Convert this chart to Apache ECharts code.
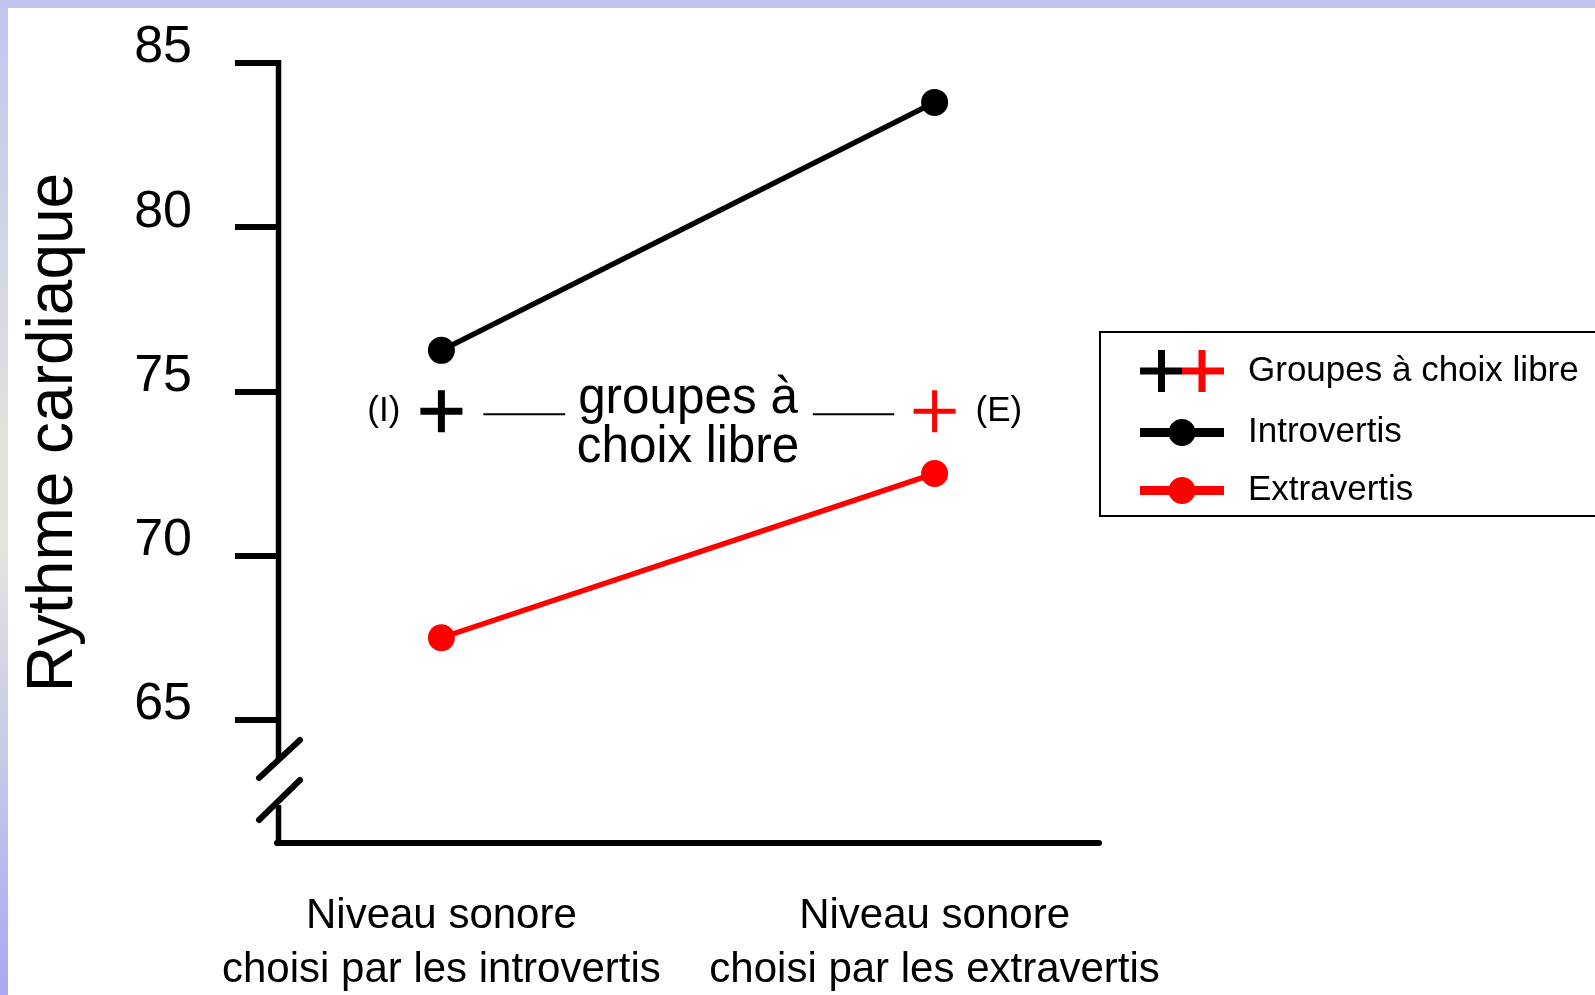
<!DOCTYPE html>
<html><head><meta charset="utf-8">
<script src="https://cdn.jsdelivr.net/npm/echarts@6/dist/echarts.min.js"></script>
<style>
html,body{margin:0;padding:0;background:#fff;}
#frameTop{position:absolute;left:0;top:0;width:1595px;height:8px;background:#c2c4f0;}
#frameLeft{position:absolute;left:0;top:0;width:8px;height:995px;background:linear-gradient(#c2c4f0,#e2e2dc 45%,#e4e4de 55%,#a8a8f4);}
#chart{position:absolute;left:0;top:0;width:1595px;height:995px;}
</style></head><body>
<div id="frameTop"></div><div id="frameLeft"></div>
<div id="chart"></div>
<script>
// ---- data ----
const categories = ['Niveau sonore\nchoisi par les introvertis', 'Niveau sonore\nchoisi par les extravertis'];
const introvertis = [76.25, 83.8];
const extravertis = [67.5, 72.5];
const groupesChoixLibre = [74.4, 74.4];
const groupLabels = ['(I)', '(E)'];
const yTicks = [65, 70, 75, 80, 85];
const seriesNames = ['Groupes à choix libre', 'Introvertis', 'Extravertis'];
const annotationText = 'groupes à\nchoix libre';

// ---- styles ----
const REG = "'Liberation Sans', Arial, Helvetica, sans-serif";
const RED = '#ff0000';
const crossBlack = 'path://M-3.5,-21H3.5V-3.5H21V3.5H3.5V21H-3.5V3.5H-21V-3.5H-3.5Z';
const crossRed = 'path://M-2.5,-21H2.5V-2.5H21V2.5H2.5V21H-2.5V2.5H-21V-2.5H-2.5Z';
const crossSvg = "<svg xmlns='http://www.w3.org/2000/svg' width='84' height='42' viewBox='0 0 84 42'>" +
  "<rect x='0' y='17.5' width='42' height='7' fill='#000'/><rect x='18' y='0' width='7' height='42' fill='#000'/>" +
  "<rect x='42' y='17.5' width='42' height='7' fill='#f00'/><rect x='58.5' y='0' width='7' height='42' fill='#f00'/></svg>";
const crossIcon = 'image://data:image/svg+xml;charset=utf-8,' + encodeURIComponent(crossSvg);
const lineDotIcon = 'path://M0,16.5H84V25.5H0Z M55.5,21A13.5,13.5,0,1,1,28.5,21A13.5,13.5,0,1,1,55.5,21Z';

const chart = echarts.init(document.getElementById('chart'), null, {renderer: 'canvas'});

const option = {
  animation: false,
  backgroundColor: 'transparent',
  grid: {left: 277, right: 496, top: 63, bottom: 152, containLabel: false, outerBoundsMode: 'none'},
  legend: {
    orient: 'vertical', left: 1100, top: 332,
    padding: [18, 18, 8, 40],
    itemWidth: 84, itemHeight: 42, itemGap: 23,
    borderColor: '#000', borderWidth: 2, backgroundColor: '#fff',
    selectedMode: false,
    textStyle: {fontFamily: REG, fontSize: 35, color: '#000', padding: [0, 0, 0, 19]},
    data: [
      {name: seriesNames[0], icon: crossIcon},
      {name: seriesNames[1], icon: lineDotIcon},
      {name: seriesNames[2], icon: lineDotIcon}
    ]
  },
  xAxis: {
    type: 'value', min: -1/3, max: 4/3,
    axisLine: {show: true, onZero: false, lineStyle: {color: '#000', width: 6}},
    axisTick: {show: false}, splitLine: {show: false},
    axisLabel: {
      customValues: [0, 1],
      formatter: v => categories[Math.round(v)],
      fontFamily: REG, fontSize: 42, lineHeight: 54, color: '#000', margin: 46
    }
  },
  yAxis: {
    type: 'value', min: 61.25, max: 85,
    axisLine: {show: false, onZero: false}, splitLine: {show: false},
    axisTick: {show: true, customValues: yTicks, length: 42, lineStyle: {color: '#000', width: 6}},
    axisLabel: {customValues: yTicks, fontFamily: REG, fontSize: 52, color: '#000', margin: 85,
                verticalAlign: 'bottom', lineHeight: 30},
    name: 'Rythme cardiaque', nameLocation: 'middle', nameGap: 191,
    nameTextStyle: {fontFamily: REG, fontSize: 64, color: '#000', padding: [0, 0, 0, 41]}
  },
  series: [
    {
      name: seriesNames[0], type: 'scatter', symbolSize: 42, z: 5,
      itemStyle: {opacity: 1},
      data: groupesChoixLibre.map((v, i) => ({
        value: [i, v],
        symbol: i === 0 ? crossBlack : crossRed,
        itemStyle: {color: i === 0 ? '#000' : RED, opacity: 1},
        label: {
          show: true, formatter: groupLabels[i], position: i === 0 ? 'left' : 'right',
          distance: 20, fontFamily: REG, fontSize: 35, color: '#000', opacity: 1
        }
      }))
    },
    {
      name: seriesNames[1], type: 'line', data: introvertis.map((v, i) => [i, v]),
      symbol: 'circle', symbolSize: 27, color: '#000',
      lineStyle: {color: '#000', width: 5.5}, itemStyle: {color: '#000'}
    },
    {
      name: seriesNames[2], type: 'line', data: extravertis.map((v, i) => [i, v]),
      symbol: 'circle', symbolSize: 27, color: RED,
      lineStyle: {color: RED, width: 5.5}, itemStyle: {color: RED}
    }
  ]
};
chart.setOption(option);

// axis line with break + annotation, positioned through the chart's own scales
function drawExtras() {
  const P = (x, y) => chart.convertToPixel({gridIndex: 0}, [x, y]);
  const top = P(-1/3, 85);
  const bot = P(-1/3, 61.25);
  const ax = top[0] + 1.5;
  const yT = top[1] - 3, yB = bot[1];
  const ls = {stroke: '#000', lineWidth: 5.5};
  const slash = {stroke: '#000', lineWidth: 6, lineCap: 'round'};
  const g = groupesChoixLibre[0];
  const mid = P(0.5, g);
  const d1a = P(0.085, g), d1b = P(0.251, g);
  const d2a = P(0.753, g), d2b = P(0.918, g);
  chart.setOption({
    graphic: [
      {type: 'line', shape: {x1: ax, y1: yT, x2: ax, y2: yB - 83}, style: ls, z: 10},
      {type: 'line', shape: {x1: ax - 19.5, y1: yB - 65, x2: ax + 21.5, y2: yB - 103}, style: slash, z: 10},
      {type: 'line', shape: {x1: ax - 19.5, y1: yB - 23, x2: ax + 21.5, y2: yB - 63}, style: slash, z: 10},
      {type: 'line', shape: {x1: ax, y1: yB - 38, x2: ax, y2: yB + 3}, style: ls, z: 10},
      {type: 'line', shape: {x1: d1a[0], y1: d1a[1] + 3, x2: d1b[0], y2: d1b[1] + 3}, style: {stroke: '#000', lineWidth: 2}, z: 10},
      {type: 'line', shape: {x1: d2a[0], y1: d2a[1] + 3, x2: d2b[0], y2: d2b[1] + 3}, style: {stroke: '#000', lineWidth: 2}, z: 10},
      {type: 'text', x: mid[0], y: mid[1] + 12, scaleX: 0.95, z: 10,
       style: {text: annotationText, fontFamily: REG, fontSize: 52, lineHeight: 49, fill: '#000', align: 'center', verticalAlign: 'middle'}}
    ]
  });
}
drawExtras();
</script>
</body></html>
